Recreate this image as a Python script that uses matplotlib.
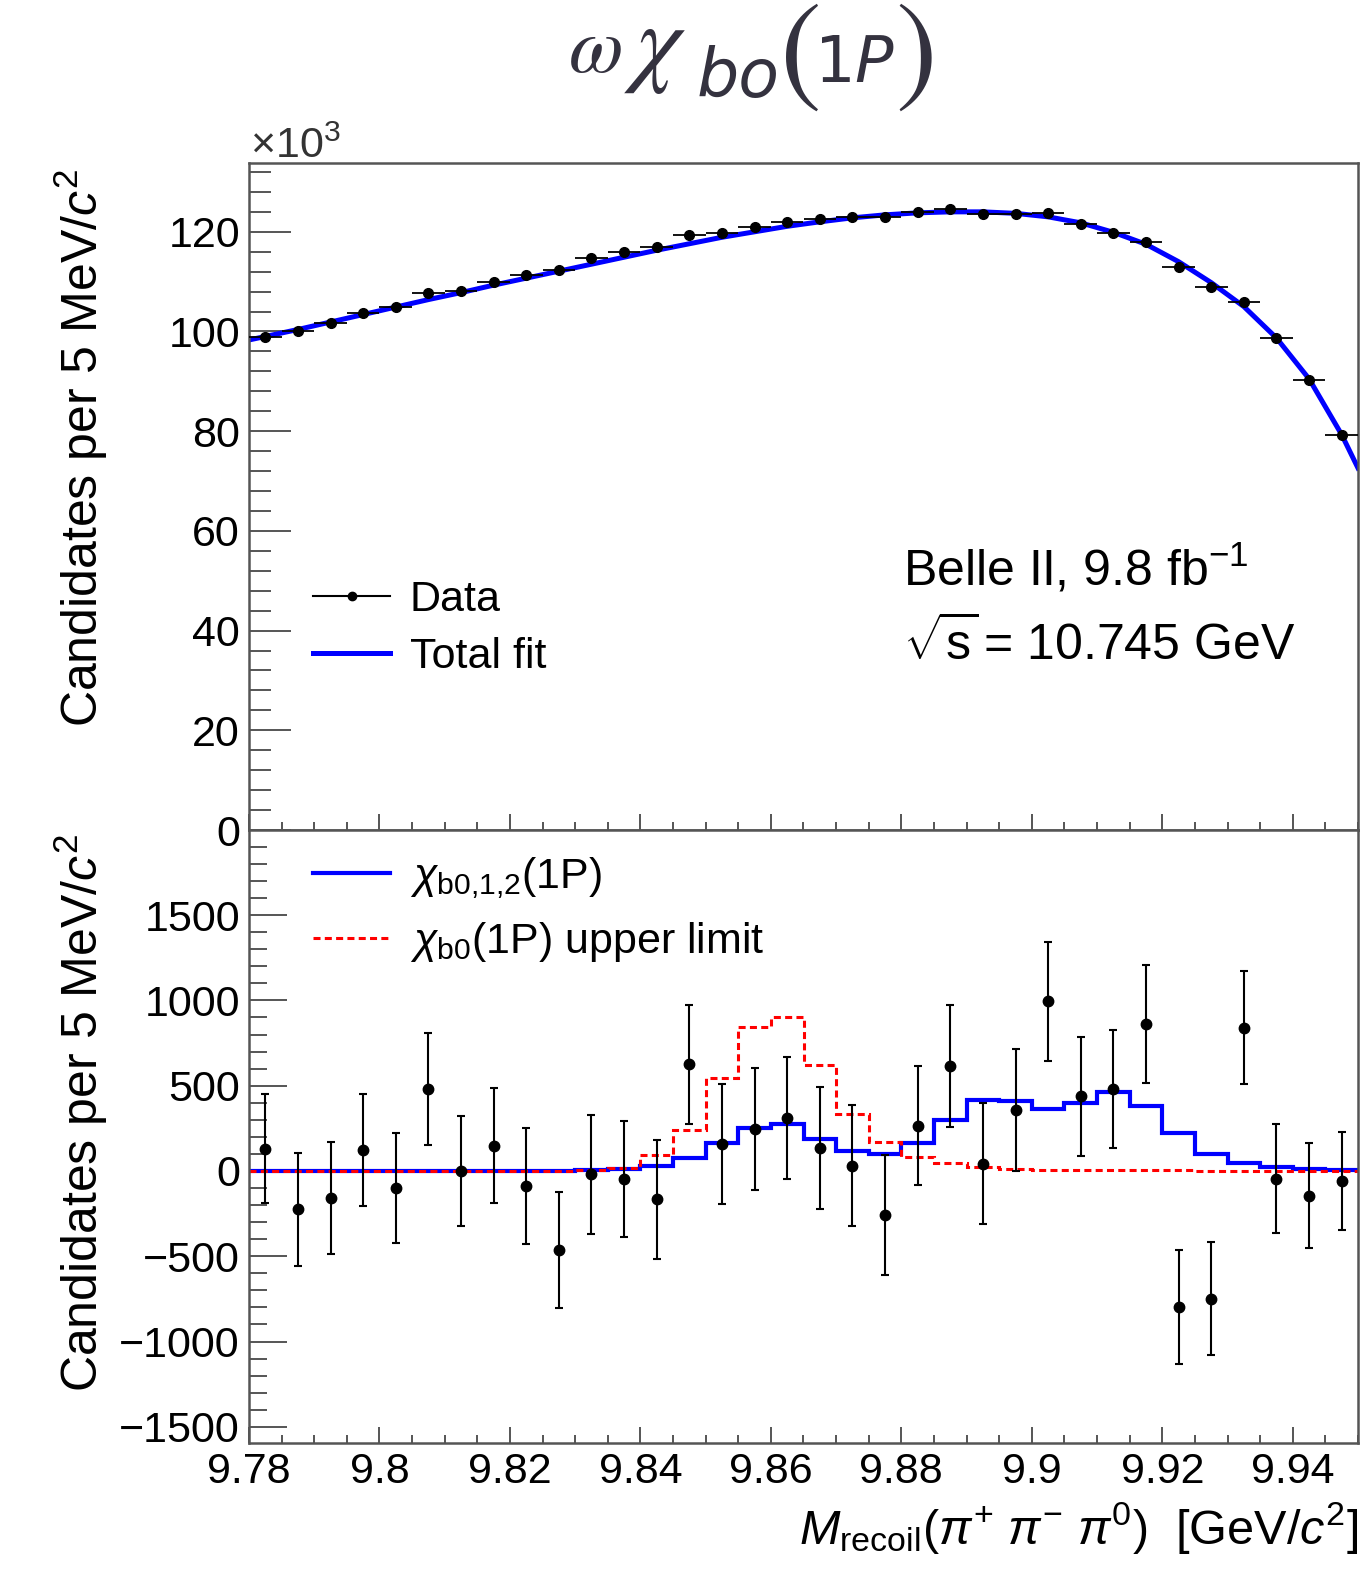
import numpy as np
import matplotlib
matplotlib.use("Agg")
import matplotlib.pyplot as plt
from matplotlib.ticker import MultipleLocator, FuncFormatter
from matplotlib.lines import Line2D

plt.rcParams["font.family"] = "Liberation Sans"
plt.rcParams["mathtext.fontset"] = "custom"
plt.rcParams["mathtext.rm"] = "Liberation Sans"
plt.rcParams["mathtext.it"] = "Liberation Sans:italic"
plt.rcParams["mathtext.bf"] = "Liberation Sans:bold"

# 5 MeV bins from 9.78 to 9.95 GeV
x_lo, x_hi, bin_w = 9.78, 9.95, 0.005
edges = np.round(np.arange(35) * bin_w + x_lo, 4)
centers = edges[:-1] + bin_w / 2

# data in thousands of candidates (upper panel)
data_k = [98.9, 100.1, 101.8, 103.7, 105.0, 107.7, 108.2, 110.0, 111.4, 112.4,
          114.7, 115.9, 117.0, 119.4, 119.8, 121.0, 122.0, 122.6, 123.0, 123.0,
          124.0, 124.6, 123.6, 123.6, 123.8, 121.6, 119.8, 118.0, 113.0, 109.0,
          106.0, 98.7, 90.3, 79.3]

# total fit, sampled at the range ends and the bin centres
fit_x = [x_lo] + list(centers) + [x_hi]
fit_k = [98.3,
         99.0, 100.4, 101.9, 103.4, 104.9, 106.4, 107.8, 109.3, 110.7, 112.1,
         113.5, 114.9, 116.3, 117.6, 118.9, 120.0, 121.1, 122.0, 122.8, 123.4,
         123.8, 124.0, 124.0, 123.7, 123.0, 121.8, 119.9, 117.5, 114.0, 109.8,
         105.0, 98.7, 90.5, 79.3,
         72.6]

# background-subtracted data (lower panel) and its uncertainties
resid = [130, -225, -160, 125, -98, 480, 0, 147, -88, -463,
         -20, -50, -167, 625, 158, 248, 310, 135, 30, -257,
         265, 614, 43, 358, 995, 438, 480, 862, -797, -748,
         841, -45, -145, -60]
resid_err = [320, 330, 328, 328, 323, 330, 324, 337, 338, 342,
             347, 340, 350, 350, 352, 358, 357, 356, 355, 352,
             350, 358, 354, 358, 350, 350, 347, 344, 333, 333,
             330, 318, 306, 286]

# chi_b0,1,2(1P) signal and chi_b0(1P) upper limit templates
chib012 = [0, 0, 0, 0, 0, 0, 0, 0, 0, 0,
           3, 10, 29, 74, 162, 250, 274, 190, 117, 100,
           162, 299, 416, 410, 362, 401, 461, 383, 221, 100,
           45, 22, 12, 6]
chib0_ul = [0, 0, 0, 0, 0, 0, 0, 0, 1, 2,
            4, 18, 92, 240, 543, 846, 905, 622, 332, 172,
            84, 45, 22, 10, 6, 5, 4, 3, 3, 2,
            2, 1, 1, 1]

W, H = 1367, 1569
fig = plt.figure(figsize=(W / 100, H / 100), dpi=100)


def px(x, y):
    return x / W, 1 - y / H


ax1 = fig.add_axes([249 / W, 1 - 830 / H, 1109 / W, 667 / H])
ax2 = fig.add_axes([249 / W, 1 - 1443 / H, 1109 / W, 613 / H], sharex=ax1)

frame = "#555555"
tick_fs = 31

# upper panel
ax1.plot(fit_x, fit_k, color="#0000ff", lw=3.6, zorder=2)
ax1.errorbar(centers, data_k, xerr=bin_w / 2, yerr=np.array(resid_err) / 1000,
             fmt="o", color="k", ms=7, lw=1.3, capsize=0, zorder=3)
ax1.set_ylim(0, 133.8)
ax1.yaxis.set_major_locator(MultipleLocator(20))
ax1.yaxis.set_minor_locator(MultipleLocator(4))
ax1.set_ylabel("Candidates per 5 MeV/$c^{2}$", fontsize=36, ha="right", va="center")
ax1.yaxis.set_label_coords(-0.1515, 0.991)

h_data = Line2D([], [], color="k", marker="o", ms=6, lw=1.5)
h_fit = Line2D([], [], color="#0000ff", lw=3.6)
ax1.legend([h_data, h_fit], ["Data", "Total fit"], loc="upper left",
           bbox_to_anchor=(0.0577, 0.3745), frameon=False, fontsize=31,
           handlelength=1.8, handletextpad=0.45, borderpad=0,
           borderaxespad=0, labelspacing=0.4)

ax1.text(0.5897, 0.367, "Belle II, 9.8 fb$^{-1}$", transform=ax1.transAxes,
         fontsize=36, va="baseline")
ax1.text(0.5897, 0.255, r"$\sqrt{\mathrm{s}}\,$= 10.745 GeV", transform=ax1.transAxes,
         fontsize=36, va="baseline")
fig.text(*px(250, 158), r"$\times$10$^{3}$", fontsize=31, color="#333333", va="baseline")

# lower panel
ax2.stairs(chib012, edges, baseline=None, color="#0000ff", lw=3, zorder=2)
ax2.stairs(chib0_ul, edges, baseline=None, color="#ff0000", lw=2.2,
           ls=(0, (2.3, 1.4)), zorder=2)
ax2.errorbar(centers, resid, yerr=resid_err, fmt="o", color="k", ms=7.5,
             lw=1.5, capsize=3, capthick=1.5, zorder=3)
ax2.set_ylim(-1595, 1999)
ax2.yaxis.set_major_locator(MultipleLocator(500))
ax2.yaxis.set_minor_locator(MultipleLocator(100))
ax2.set_ylabel("Candidates per 5 MeV/$c^{2}$", fontsize=36, ha="right", va="center")
ax2.yaxis.set_label_coords(-0.1515, 0.9935)
ax2.set_xlabel(r"$M_{\mathrm{recoil}}$($\pi^{+}$ $\pi^{-}$ $\pi^{0}$)  [GeV/$c^{2}$]",
               fontsize=35, ha="right", va="top")
ax2.xaxis.set_label_coords(1.0, -0.093)

h_sig = Line2D([], [], color="#0000ff", lw=3)
h_ul = Line2D([], [], color="#ff0000", lw=2.2, ls=(0, (2.3, 1.4)))
ax2.legend([h_sig, h_ul],
           [r"$\chi_{\text{b0,1,2}}$(1P)", r"$\chi_{\text{b0}}$(1P) upper limit"],
           loc="upper left", bbox_to_anchor=(0.0577, 0.9585), frameon=False,
           fontsize=31, handlelength=1.8, handletextpad=0.45, borderpad=0,
           borderaxespad=0, labelspacing=0.44)

ax2.set_xlim(x_lo, x_hi)
ax2.xaxis.set_major_locator(MultipleLocator(0.02))
ax2.xaxis.set_minor_locator(MultipleLocator(0.005))
ax2.xaxis.set_major_formatter(FuncFormatter(lambda v, p: f"{round(v, 3):g}"))

for ax, ymaj, ymin in ((ax1, 30, 16), (ax2, 27, 13)):
    for s in ax.spines.values():
        s.set_color(frame)
        s.set_linewidth(1.8)
    ax.tick_params(which="both", direction="in", color=frame, width=1.4,
                   top=False, right=False, labelsize=tick_fs, pad=6.5)
    ax.tick_params(axis="y", which="major", length=ymaj)
    ax.tick_params(axis="y", which="minor", length=ymin)
    ax.tick_params(axis="x", which="major", length=11.5)
    ax.tick_params(axis="x", which="minor", length=6)
ax1.tick_params(axis="x", labelbottom=False)

# title, set piece by piece
title_c = "#34323f"
fig.text(*px(568, 72), r"$\omega$", fontsize=57, color=title_c,
         math_fontfamily="stix", va="baseline")
fig.text(*px(624, 74), r"$\chi$", fontsize=72, color=title_c,
         math_fontfamily="stix", va="baseline")
fig.text(*px(697, 97), "bo", fontsize=48, color=title_c, style="italic",
         family="DejaVu Sans", va="baseline")
fig.text(*px(780, 89), "(", fontsize=90, color=title_c,
         family="STIXGeneral", va="baseline")
fig.text(*px(814, 82), r"1$\mathit{P}$", fontsize=46, color=title_c,
         family="DejaVu Sans", math_fontfamily="dejavusans", va="baseline")
fig.text(*px(895, 89), ")", fontsize=90, color=title_c, family="STIXGeneral",
         va="baseline")

fig.savefig("out.png", dpi=100)
